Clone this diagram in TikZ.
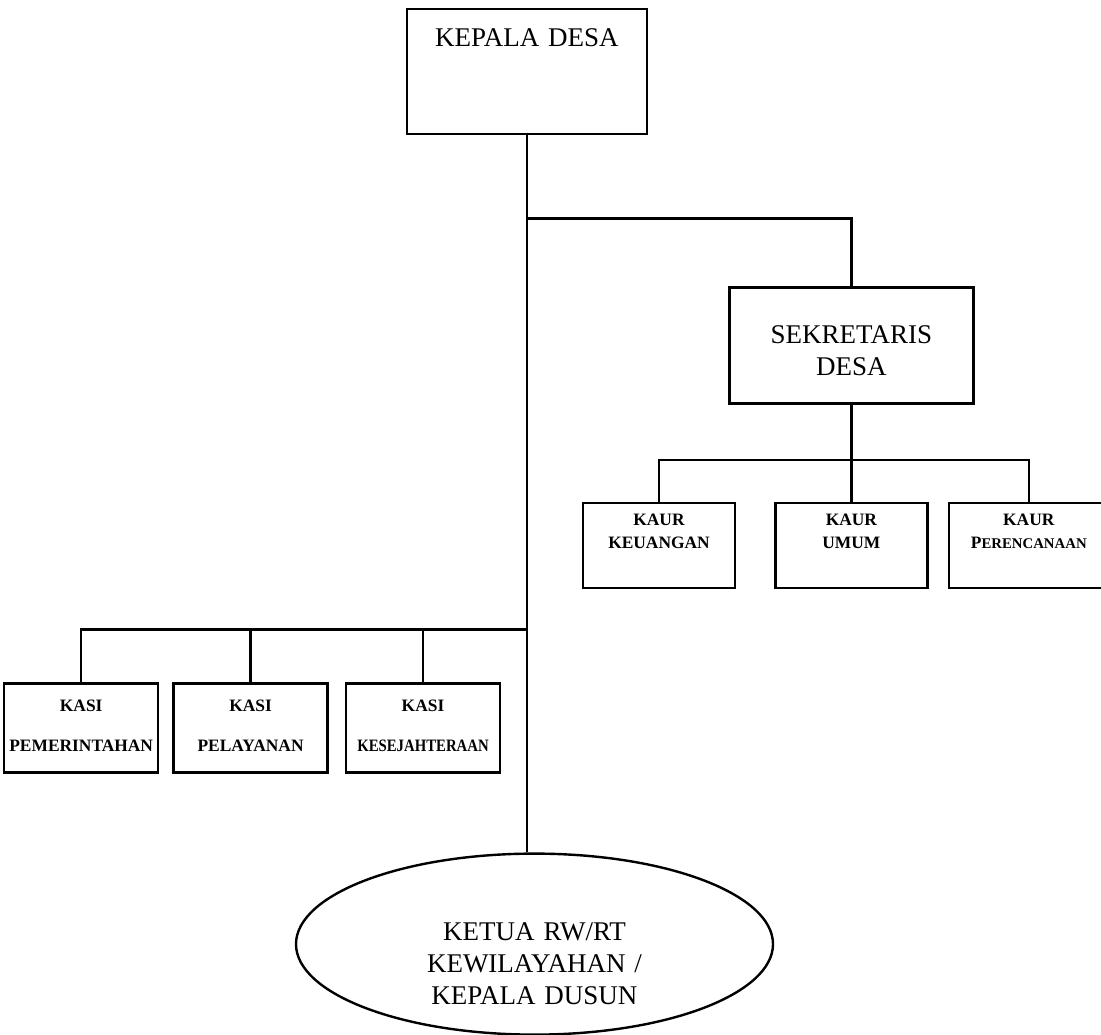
\documentclass[tikz,border=0pt]{standalone}
\usepackage{fontspec}
\setmainfont{Liberation Serif}
\usepackage{tikz}
\usetikzlibrary{positioning,calc,shapes.geometric}
\tikzset{
  kadesbox/.style={draw, line width=1.2pt, inner sep=0pt, text width=120pt,
    text height=18.5pt, text depth=44pt, align=center,
    font=\fontsize{13.5}{16}\selectfont},
  sekbox/.style={draw, line width=1.2pt, inner sep=0pt, text width=122pt,
    text height=28pt, text depth=30pt, align=center,
    font=\fontsize{13.5}{16}\selectfont},
  kaurbox/.style={draw, line width=1.2pt, inner sep=0pt, text width=76pt,
    text height=11.4pt, text depth=31.1pt, align=center,
    font=\fontsize{8.7}{11.5}\selectfont\bfseries},
  kasibox/.style={draw, line width=1.2pt, inner sep=0pt, text width=77pt,
    text height=13.9pt, text depth=30.6pt, align=center,
    font=\fontsize{8.7}{20}\selectfont\bfseries},
  dusunbox/.style={ellipse, draw, line width=1.2pt, minimum width=238.5pt,
    minimum height=90.5pt, text width=150pt, text height=10pt, text depth=13.5pt,
    align=center, font=\fontsize{13.5}{16}\selectfont},
  orgline/.style={line width=1.2pt}
}

\begin{document}
\begin{tikzpicture}[x=1pt, y=1pt]
\useasboundingbox (0,0) rectangle (550.5,-517);
\node[kadesbox, anchor=north] (kades) at (263.5,-4) {KEPALA DESA};
\node[sekbox, below right=75.5pt and 40pt of kades] (sekdes) {SEKRETARIS\\DESA};

\node[kaurbox, below=48.5pt of sekdes] (umum) {KAUR\\UMUM};
\node[kaurbox, left=19pt of umum] (keuangan) {KAUR\\KEUANGAN};
\node[kaurbox, text width=80pt, right=9.5pt of umum] (perencanaan)
{KAUR\\P{\fontsize{7.4}{11.5}\selectfont ERENCANAAN}};

\node[kasibox, below left=273.5pt and 38.5pt of kades] (pelayanan) {KASI\\PELAYANAN};
\node[kasibox, left=6.5pt of pelayanan] (pemerintahan) {KASI\\PEMERINTAHAN};
\node[kasibox, right=8pt of pelayanan] (kesejahteraan)
{KASI\\\scalebox{0.85}[1]{KESEJAHTERAAN}};

\node[dusunbox, below=358.5pt of kades, xshift=3.75pt] (dusun)
{KETUA RW/RT\\KEWILAYAHAN /\\KEPALA DUSUN};

\coordinate (jsek) at ([yshift=-41.5pt]kades.south);
\coordinate (jkaur) at ([yshift=-27.5pt]sekdes.south);
\coordinate (jkasi) at ([yshift=-247pt]kades.south);

\draw[orgline] (kades.south) -- (kades.south |- dusun.north);
\draw[orgline] (jsek) -| (sekdes.north);
\draw[orgline] (sekdes.south) -- (jkaur);
\draw[orgline] (keuangan.north) |- (jkaur) -| (perencanaan.north);
\draw[orgline] (jkaur) -- (umum.north);
\draw[orgline] (jkasi) -| (pemerintahan.north);
\draw[orgline] (pelayanan.north) -- (pelayanan.north |- jkasi);
\draw[orgline] (kesejahteraan.north) -- (kesejahteraan.north |- jkasi);
\end{tikzpicture}
\end{document}
